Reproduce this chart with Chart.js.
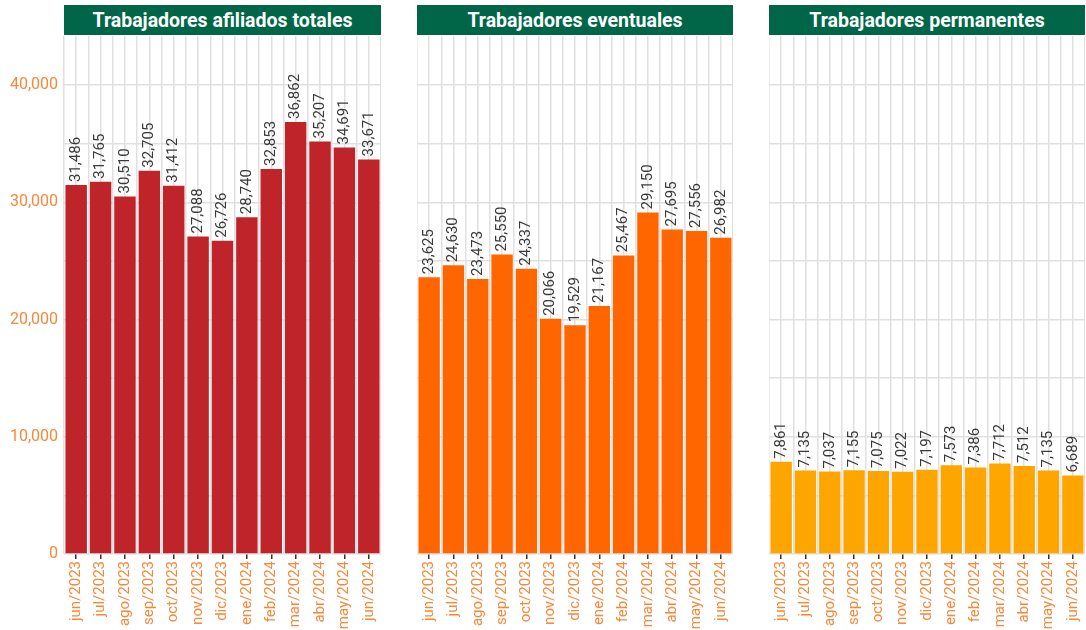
<!DOCTYPE html>
<html><head><meta charset="utf-8">
<script src="https://cdn.jsdelivr.net/npm/chart.js@4"></script>
<style>
html,body{margin:0;padding:0;background:#fff;width:1086px;height:630px;overflow:hidden;font-family:Roboto,sans-serif}
.hdr{position:absolute;top:5px;height:30px;background:#006647;color:#fff;font:bold 19.5px Roboto,sans-serif;text-align:center;line-height:31px}
.cv{position:absolute;top:36px;height:594px}
</style></head><body>
<div class="hdr" style="left:64px;width:317px">Trabajadores afiliados totales</div>
<div class="hdr" style="left:417px;width:316px">Trabajadores eventuales</div>
<div class="hdr" style="left:769px;width:316px">Trabajadores permanentes</div>
<div class="cv" style="left:0;width:381px"><canvas id="c1"></canvas></div>
<div class="cv" style="left:417px;width:316px"><canvas id="c2"></canvas></div>
<div class="cv" style="left:769px;width:316px"><canvas id="c3"></canvas></div>
<script>
const months = ["jun/2023","jul/2023","ago/2023","sep/2023","oct/2023","nov/2023","dic/2023","ene/2024","feb/2024","mar/2024","abr/2024","may/2024","jun/2024"];
const totales = [31486,31765,30510,32705,31412,27088,26726,28740,32853,36862,35207,34691,33671];
const eventuales = [23625,24630,23473,25550,24337,20066,19529,21167,25467,29150,27695,27556,26982];
const permanentes = [7861,7135,7037,7155,7075,7022,7197,7573,7386,7712,7512,7135,6689];
const yTicks = [0,10000,20000,30000,40000];

const orange = '#f7883a';
const valueLabels = {
  id:'valueLabels',
  afterDatasetsDraw(chart){
    const ctx = chart.ctx;
    const meta = chart.getDatasetMeta(0);
    const data = chart.data.datasets[0].data;
    ctx.save();
    ctx.font = '15px Roboto, sans-serif';
    ctx.fillStyle = '#3a3a3a';
    ctx.textAlign = 'left';
    ctx.textBaseline = 'middle';
    meta.data.forEach((bar,i)=>{
      ctx.save();
      ctx.translate(bar.x, bar.y - 3);
      ctx.rotate(-Math.PI/2);
      ctx.fillText(data[i].toLocaleString('en-US'), 0, 0);
      ctx.restore();
    });
    ctx.restore();
  }
};

function make(id, values, color, showY){
  new Chart(document.getElementById(id), {
    type:'bar',
    data:{labels:months, datasets:[{data:values, backgroundColor:color, barPercentage:0.88, categoryPercentage:1}]},
    options:{
      responsive:true, maintainAspectRatio:false, animation:false,
      layout:{padding:0},
      plugins:{legend:{display:false}, tooltip:{enabled:false}},
      scales:{
        x:{
          offset:true,
          grid:{offset:false, color:'#e0e0e0', lineWidth:1.5, tickColor:'#333', tickLength:5, drawTicks:true},
          border:{display:false},
          ticks:{color:orange, font:{family:'Roboto', size:15}, maxRotation:90, minRotation:90, autoSkip:false, padding:2},
          afterFit(s){ s.height = 76; s.paddingLeft = 0; s.paddingRight = 0; }
        },
        x2:{
          type:'category', labels:months, offset:true, position:'bottom', display:true,
          grid:{offset:true, color:'#e0e0e0', lineWidth:1.5, drawTicks:false},
          border:{display:false},
          ticks:{display:false},
          afterFit(s){ s.height = 0; s.paddingLeft = 0; s.paddingRight = 0; }
        },
        y:{
          min:0, max:44200,
          display:true,
          grid:{color:'#e0e0e0', lineWidth:1.5, drawTicks:false},
          border:{display:false},
          afterBuildTicks(s){ const t=[]; for(let v=0; v<=40000; v+=5000) t.push({value:v}); s.ticks=t; },
          ticks:{
            display:showY, color:orange, font:{family:'Roboto', size:16}, padding:6,
            callback(v){ return yTicks.includes(v) ? v.toLocaleString('en-US') : ''; }
          },
          afterFit(s){ s.width = showY ? 64 : 0; s.paddingTop = 0; s.paddingBottom = 0; }
        }
      }
    },
    plugins:[valueLabels]
  });
}
make('c1', totales, '#c0242b', true);
make('c2', eventuales, '#ff6600', false);
make('c3', permanentes, '#ffa500', false);
</script>
</body></html>
